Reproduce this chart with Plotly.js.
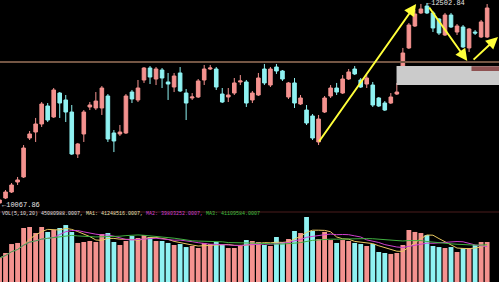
<!DOCTYPE html>
<html><head><meta charset="utf-8">
<script src="https://cdn.plot.ly/plotly-3.0.1.min.js"></script>
<style>html,body{margin:0;padding:0;background:#000;overflow:hidden}#chart{width:499px;height:282px}</style>
</head><body><div id="chart"></div>
<script>
const openP = [10080,10140,10213,10334,10395,10867,10940,11037,11255,11122,
11412,11328,11182,10673,10916,11243,11231,11231,11376,10928,
10916,10928,11424,11328,11570,11715,11582,11691,11546,11485,
11655,11412,11352,11364,11570,11703,11703,11400,11364,11412,
11546,11546,11328,11388,11703,11509,11727,11679,11364,11534,
11279,11206,11134,10819,11182,11376,11473,11412,11582,11703,
11570,11521,11509,11352,11291,11291,11400,11727,11958,12224,
12382,12466,12382,12309,12115,12357,12151,12212,11958,12151,
12091,12091];
const closeP = [10116,10213,10298,10359,10746,10916,11037,11279,11085,11449,
11291,11182,10673,10795,11182,11267,11315,11473,10855,10831,
10940,11376,11340,11473,11715,11606,11703,11594,11521,11618,
11437,11291,11364,11558,11703,11715,11485,11303,11388,11534,
11558,11291,11412,11594,11534,11703,11679,11582,11534,11291,
11352,11049,10867,11097,11352,11473,11424,11582,11667,11643,
11485,11594,11267,11255,11206,11364,11424,11897,12236,12369,
12430,12382,12200,12139,12357,12212,12224,11970,12188,12139,
12273,12442];
const highP = [10128,10237,10322,10395,10782,10952,11110,11303,11291,11473,
11424,11388,11267,10807,11206,11303,11424,11497,11400,10964,
11025,11400,11449,11570,11727,11739,11727,11715,11655,11655,
11727,11461,11412,11582,11752,11752,11727,11473,11473,11594,
11630,11570,11437,11655,11764,11727,11764,11691,11546,11594,
11388,11267,11158,11146,11376,11509,11534,11630,11703,11739,
11594,11630,11546,11364,11315,11412,11534,11958,12260,12418,
12491,12502.84,12406,12321,12382,12382,12248,12236,12200,12176,
12297,12490];
const lowP = [10067.86,10128,10201,10298,10383,10843,10819,11001,11061,11110,
11110,11061,10661,10625,10819,11206,11206,11146,10819,10697,
10892,10916,11291,11303,11534,11521,11509,11473,11328,11424,
11424,11085,11328,11352,11509,11691,11449,11291,11303,11388,
11509,11243,11291,11376,11509,11485,11643,11558,11340,11231,
11267,11025,10843,10782,11170,11352,11388,11400,11570,11630,
11473,11473,11243,11243,11194,11279,11388,11715,11945,12212,
12369,12369,12151,12115,12103,12200,12115,11958,11909,12115,
12079,12079];
// volume in millions
const volumeM = [27.0,32.7,42.8,44.0,60.9,62.0,55.2,62.0,56.4,58.6,
60.9,64.2,56.4,44.0,45.1,46.2,45.1,54.1,55.2,45.1,
41.7,46.2,51.8,49.6,53.0,50.7,46.2,46.2,44.0,41.7,
42.8,39.4,40.6,38.3,44.0,42.8,45.1,41.7,38.3,38.3,
41.7,47.3,46.2,45.1,41.7,40.6,50.7,45.1,48.5,57.5,
55.2,73.3,57.5,48.5,56.4,47.3,44.0,47.3,46.2,44.0,
42.8,40.6,42.8,33.8,32.7,31.6,32.7,41.7,58.6,56.4,
55.2,53.0,40.6,39.4,38.3,39.4,33.8,38.3,38.3,41.7,
45.1,45.08];
const maPeriods = [5,10,20];
const highLabel = '←12502.84';
const lowLabel = '←10067.86';
const volCaption = ['VOL(5,10,20) 45080988.0007, ', 'MA1: 41248516.0007, ', 'MA2: 39803252.0007, ', 'MA3: 41109584.0007'];
const levelLine = 11788;

const RED = '#f4928f', CYAN = '#8ff2f2';
const idx = openP.map((_, i) => i);
const volColors = idx.map(i => closeP[i] >= openP[i] ? RED : CYAN);
function ma(n) {
  return volumeM.map((_, i) => {
    const s = Math.max(0, i - n + 1);
    const w = volumeM.slice(s, i + 1);
    return w.reduce((a, b) => a + b, 0) / w.length;
  });
}
const maColors = ['#e8c860', '#d040d0', '#40b040'];

const traces = [
  {type: 'candlestick', x: idx, open: openP, high: highP, low: lowP, close: closeP,
   xaxis: 'x', yaxis: 'y', whiskerwidth: 0,
   increasing: {line: {color: RED, width: 1}, fillcolor: RED},
   decreasing: {line: {color: CYAN, width: 1}, fillcolor: CYAN},
   hoverinfo: 'skip', showlegend: false},
  {type: 'bar', x: idx, y: volumeM, xaxis: 'x', yaxis: 'y2',
   marker: {color: volColors, line: {width: 0}}, hoverinfo: 'skip', showlegend: false}
];
maPeriods.forEach((p, k) => traces.push({type: 'scatter', mode: 'lines', x: idx, y: ma(p),
  xaxis: 'x', yaxis: 'y2', line: {color: maColors[k], width: 1}, hoverinfo: 'skip', showlegend: false}));

const W = 499, H = 282;
const yPaper = py => 1 - py / H;
const arrowDefs = [
  {from: [52.9, 10807], to: [69.2, 12491]},
  {from: [71.2, 12466], to: [77.7, 11800]},
  {from: [78.5, 11800], to: [82.8, 12091]}
];
const annotations = arrowDefs.map(a => ({
  x: a.to[0], y: a.to[1], ax: a.from[0], ay: a.from[1], xref: 'x', yref: 'y', axref: 'x', ayref: 'y',
  showarrow: true, arrowhead: 2, arrowsize: 1.2, arrowwidth: 2, arrowcolor: '#ffff3a', text: ''
}));
annotations.push({x: 70.75, y: 12502.84, xref: 'x', yref: 'y', xanchor: 'left', yanchor: 'middle',
  text: highLabel, showarrow: false, font: {family: 'Liberation Mono', size: 7, color: '#e6e6e6'}});
annotations.push({x: 0.0, y: yPaper(205), xref: 'paper', yref: 'paper', xanchor: 'left', yanchor: 'middle',
  text: lowLabel, showarrow: false, font: {family: 'Liberation Mono', size: 7, color: '#e6e6e6'}});
const capColors = ['#e0e0e0', '#e8e0b8', '#d040d0', '#40c040'];
annotations.push({x: 0, y: yPaper(214), xref: 'paper', yref: 'paper', xanchor: 'left', yanchor: 'middle',
  text: volCaption.map((t, k) => '<span style="color:' + capColors[k] + '">' + t + '</span>').join(''),
  showarrow: false, font: {family: 'Liberation Mono', size: 5, color: '#e0e0e0'}});

const shapes = [
  {type: 'line', xref: 'paper', yref: 'y', x0: 0, x1: 1, y0: levelLine, y1: levelLine, line: {color: '#745644', width: 2}},
  {type: 'line', xref: 'paper', yref: 'paper', x0: 0, x1: 1, y0: yPaper(212), y1: yPaper(212), line: {color: '#4a1c1c', width: 1}},
  {type: 'rect', xref: 'x', yref: 'y', x0: 65.95, x1: 84, y0: 11509, y1: 11739, fillcolor: '#cbcbcb', line: {width: 0}},
  {type: 'rect', xref: 'x', yref: 'y', x0: 78.4, x1: 84, y0: 11679, y1: 11735, fillcolor: '#8e5252', line: {width: 0}}
];

const layout = {
  width: W, height: H, margin: {l: 0, r: 0, t: 0, b: 0},
  paper_bgcolor: '#000', plot_bgcolor: '#000', showlegend: false, hovermode: false,
  boxgap: 0.15, bargap: 0.2,
  xaxis: {range: [0.08, 82.97], showgrid: false, zeroline: false, showticklabels: false, showline: false,
          ticks: '', rangeslider: {visible: false}, fixedrange: true},
  yaxis: {domain: [yPaper(206), 1], range: [10043.5, 12539], showgrid: false, zeroline: false,
          showticklabels: false, ticks: '', fixedrange: true},
  yaxis2: {domain: [0, yPaper(212)], range: [0, 78.9], showgrid: false, zeroline: false,
           showticklabels: false, ticks: '', fixedrange: true},
  annotations: annotations, shapes: shapes
};
Plotly.newPlot('chart', traces, layout, {displayModeBar: false, staticPlot: true});
</script></body></html>
